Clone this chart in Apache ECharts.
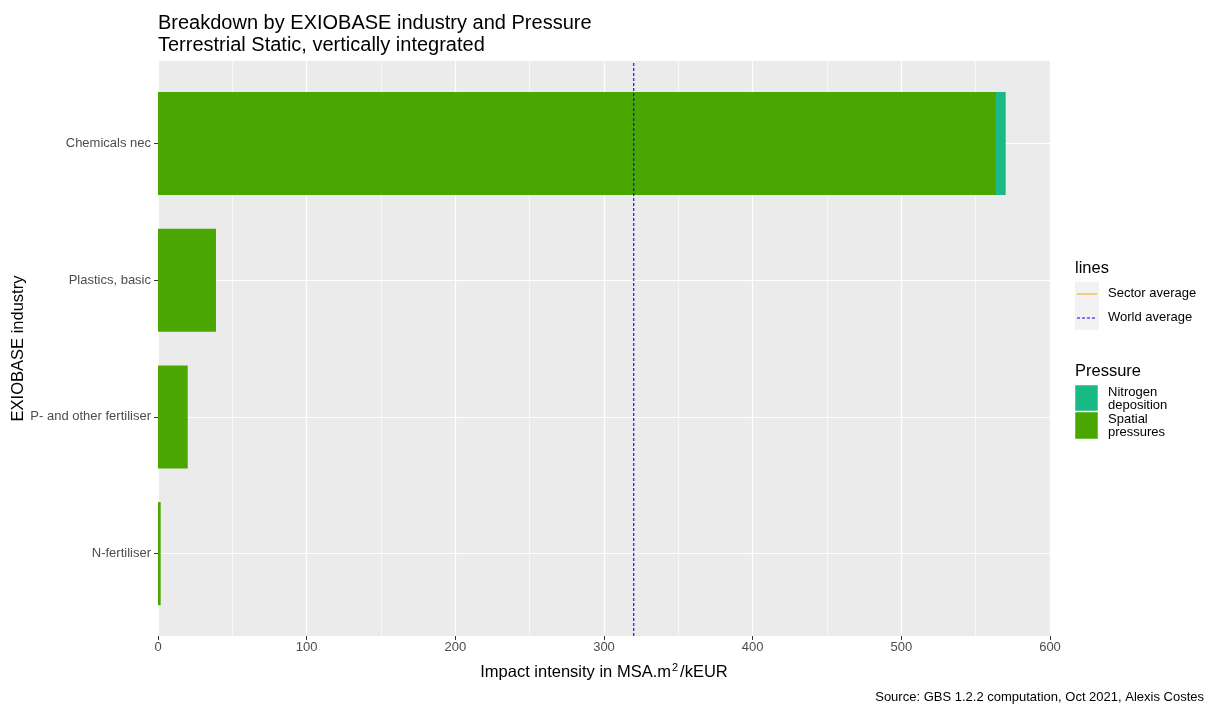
<!DOCTYPE html>
<html>
<head>
<meta charset="utf-8">
<script src="https://cdn.jsdelivr.net/npm/echarts@6/dist/echarts.min.js"></script>
<style>
html,body{margin:0;padding:0;background:#fff;}
#chart{width:1206px;height:706px;}
</style>
</head>
<body>
<div id="chart"></div>
<script>
// ---- data ----
var categories = ['Chemicals nec', 'Plastics, basic', 'P- and other fertiliser', 'N-fertiliser'];
var spatialPressures = [563.7, 39.0, 20.0, 1.8];
var nitrogenDeposition = [6.5, 0, 0, 0];
var worldAverage = 320;
var xTicks = { min: 0, max: 600, step: 100 };
var pressureNames = ['Nitrogen\ndeposition', 'Spatial\npressures'];
var lineNames = ['Sector average', 'World average'];

var FONT = "'Liberation Sans', Arial, sans-serif";
var GREEN = '#4AA600';
var TEAL = '#1ABA86';
var BLUE = '#0000FF';

var chart = echarts.init(document.getElementById('chart'), null, { renderer: 'canvas' });

var option = {
  animation: false,
  backgroundColor: '#ffffff',
  textStyle: { fontFamily: FONT },
  title: [{
    text: 'Breakdown by EXIOBASE industry and Pressure\nTerrestrial Static, vertically integrated',
    left: 158, top: 12, padding: 0,
    textStyle: { fontFamily: FONT, fontSize: 20, fontWeight: 'normal', color: '#000', lineHeight: 22 }
  }, {
    text: 'Source: GBS 1.2.2 computation, Oct 2021, Alexis Costes',
    right: 2, top: 691, padding: 0,
    textStyle: { fontFamily: FONT, fontSize: 13, fontWeight: 'normal', color: '#000' }
  }],
  grid: [
    { left: 158, right: 156, top: 61, bottom: 70, show: true, backgroundColor: '#EBEBEB', borderWidth: 0, containLabel: false, outerBoundsMode: 'none' },
    { left: 158, right: 156, top: 75, bottom: 84, show: false, containLabel: false, outerBoundsMode: 'none' }
  ],
  xAxis: [{
    gridIndex: 0, type: 'value', min: xTicks.min, max: xTicks.max, interval: xTicks.step,
    axisLine: { show: false },
    axisTick: { show: true, length: 4, lineStyle: { color: '#333333', width: 1 } },
    axisLabel: { color: '#4D4D4D', fontSize: 13, margin: 5, fontFamily: FONT },
    splitLine: { show: true, lineStyle: { color: '#ffffff', width: 1.2 } },
    minorTick: { show: false, splitNumber: 2 },
    minorSplitLine: { show: true, lineStyle: { color: '#ffffff', width: 0.6 } },
    name: '{a|Impact intensity in MSA.m}{s|2}{a|/kEUR}',
    nameLocation: 'middle', nameGap: 26,
    nameTextStyle: {
      color: '#000', fontSize: 16.5, fontFamily: FONT,
      rich: {
        a: { fontSize: 16.5, color: '#000', fontFamily: FONT, lineHeight: 20 },
        s: { fontSize: 11, color: '#000', fontFamily: FONT, lineHeight: 11, verticalAlign: 'top', padding: [0, 2, 0, 1] }
      }
    }
  }, {
    gridIndex: 1, type: 'value', min: xTicks.min, max: xTicks.max, show: false
  }],
  yAxis: [{
    gridIndex: 0, type: 'value', min: 0, max: 1, show: false
  }, {
    gridIndex: 1, type: 'category', inverse: true, data: categories,
    axisLine: { show: false },
    axisTick: { show: true, alignWithLabel: true, length: 4, interval: 0, lineStyle: { color: '#333333', width: 1 } },
    axisLabel: { color: '#4D4D4D', fontSize: 13, margin: 7, interval: 0, fontFamily: FONT },
    splitLine: { show: false },
    name: 'EXIOBASE industry', nameLocation: 'middle', nameRotate: 90, nameGap: 131,
    nameMoveOverlap: false,
    nameTextStyle: { color: '#000', fontSize: 16.5, fontFamily: FONT }
  }],
  series: [{
    name: 'hgrid', type: 'line', xAxisIndex: 1, yAxisIndex: 1, data: [], z: 1, silent: true,
    markLine: {
      z: 1, silent: true, symbol: 'none', label: { show: false },
      emphasis: { disabled: true },
      lineStyle: { color: '#ffffff', width: 1.2, type: 'solid' },
      data: categories.map(function (c) { return { yAxis: c }; })
    }
  }, {
    name: 'Spatial pressures', type: 'bar', stack: 'p', xAxisIndex: 1, yAxisIndex: 1,
    data: spatialPressures, barWidth: 103, z: 3,
    itemStyle: { color: GREEN }
  }, {
    name: 'Nitrogen deposition', type: 'bar', stack: 'p', xAxisIndex: 1, yAxisIndex: 1,
    data: nitrogenDeposition, barWidth: 103, z: 3,
    itemStyle: { color: TEAL }
  }, {
    name: 'World average', type: 'line', xAxisIndex: 0, yAxisIndex: 0, z: 6, silent: true,
    data: [[worldAverage, 0], [worldAverage, 1]],
    symbol: 'none', showSymbol: false,
    color: BLUE,
    lineStyle: { color: BLUE, width: 1.1, type: [3, 2] },
    emphasis: { disabled: true }
  }],
  graphic: [
    { type: 'text', left: 1075, top: 260, style: { text: 'lines', font: '16.5px ' + FONT, fill: '#000' } },
    { type: 'rect', shape: { x: 1075, y: 282, width: 24, height: 48 }, style: { fill: '#F2F2F2' } },
    { type: 'line', shape: { x1: 1077, y1: 294, x2: 1097, y2: 294 }, style: { stroke: '#FFA500', lineWidth: 1 } },
    { type: 'line', shape: { x1: 1077, y1: 318, x2: 1097, y2: 318 }, style: { stroke: BLUE, lineWidth: 1, lineDash: [3, 2] } },
    { type: 'text', left: 1108, top: 287, style: { text: lineNames[0], font: '13px ' + FONT, fill: '#000' } },
    { type: 'text', left: 1108, top: 311, style: { text: lineNames[1], font: '13px ' + FONT, fill: '#000' } },
    { type: 'text', left: 1075, top: 363, style: { text: 'Pressure', font: '16.5px ' + FONT, fill: '#000' } },
    { type: 'rect', shape: { x: 1075, y: 385, width: 23, height: 26 }, style: { fill: TEAL, stroke: '#ffffff', lineWidth: 0.5 } },
    { type: 'rect', shape: { x: 1075, y: 412, width: 23, height: 27 }, style: { fill: GREEN, stroke: '#ffffff', lineWidth: 0.5 } },
    { type: 'text', left: 1108, top: 386, style: { text: pressureNames[0], font: '13px ' + FONT, fill: '#000', lineHeight: 12.5 } },
    { type: 'text', left: 1108, top: 413, style: { text: pressureNames[1], font: '13px ' + FONT, fill: '#000', lineHeight: 12.5 } }
  ]
};
chart.setOption(option);
</script>
</body>
</html>
